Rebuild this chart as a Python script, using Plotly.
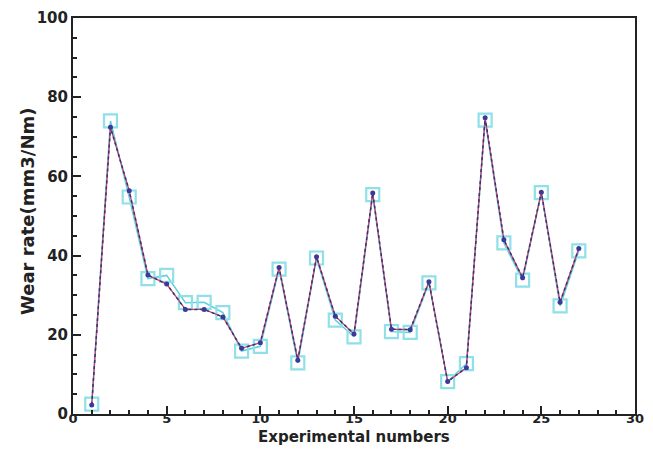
import plotly.graph_objects as go

experiments = list(range(1, 28))
experimental = [2.5, 74.0, 54.8, 34.2, 35.0, 28.1, 28.2, 25.6, 15.9, 17.1, 36.6, 12.9, 39.4,
                23.7, 19.5, 55.4, 20.8, 20.6, 33.1, 8.2, 12.7, 74.2, 43.2, 33.8, 55.9, 27.3, 41.2]
predicted = [2.3, 72.4, 56.4, 35.1, 32.8, 26.4, 26.4, 24.5, 16.6, 18.0, 37.0, 13.6, 39.7,
             24.7, 20.2, 55.8, 21.4, 21.3, 33.4, 8.2, 11.7, 74.8, 44.0, 34.4, 56.0, 28.2, 41.8]
x_title = "Experimental numbers"
y_title = "Wear rate(mm3/Nm)"

fig = go.Figure()
fig.add_trace(go.Scatter(
    x=experiments, y=experimental, mode="lines+markers", name="Experimental",
    line=dict(color="#5fd0dc", width=1.5),
    marker=dict(symbol="square-open", size=13, color="#8fe0e8", line=dict(width=2.2, color="#8fe0e8")),
))
fig.add_trace(go.Scatter(
    x=experiments, y=predicted, mode="lines", name="Predicted",
    line=dict(color="#d23a6a", width=1.3),
))
fig.add_trace(go.Scatter(
    x=experiments, y=predicted, mode="lines+markers", name="Predicted (dots)",
    line=dict(color="#2a3a7a", width=1.5, dash="3px,3px"),
    marker=dict(symbol="circle", size=5, color="#3a3a9a"),
))

tick_font = dict(family="DejaVu Sans", size=15, color="#222")
fig.update_layout(
    width=645, height=438,
    margin=dict(l=65, r=18, t=10, b=32),
    paper_bgcolor="white", plot_bgcolor="white",
    showlegend=False,
    font=dict(family="DejaVu Sans", color="#222"),
    annotations=[
        dict(text="<b>" + x_title + "</b>", xref="paper", yref="paper", x=0.5, y=0,
             xanchor="center", yanchor="middle", yshift=-23, showarrow=False,
             font=dict(family="DejaVu Sans", size=15, color="#222")),
        dict(text="<b>" + y_title + "</b>", xref="paper", yref="paper", x=0, y=0.5,
             xanchor="center", yanchor="middle", xshift=-46, yshift=4, textangle=-90,
             showarrow=False, font=dict(family="DejaVu Sans", size=18, color="#222")),
    ],
)
fig.update_xaxes(
    range=[0, 30], dtick=5, tick0=0, automargin=False,
    ticks="inside", ticklen=8, tickwidth=2, tickcolor="#222",
    minor=dict(dtick=1, ticks="inside", ticklen=4, tickwidth=1.5, tickcolor="#222"),
    showline=True, linewidth=2, linecolor="#222", mirror=True,
    showgrid=False, zeroline=False,
    tickfont=dict(family="DejaVu Sans", size=13, color="#222"), ticklabelstandoff=-9,
    tickprefix="<b>", ticksuffix="</b>",
)
fig.update_yaxes(
    range=[0, 100], dtick=20, tick0=0, automargin=False,
    ticks="inside", ticklen=8, tickwidth=2, tickcolor="#222",
    minor=dict(dtick=5, ticks="inside", ticklen=4, tickwidth=1.5, tickcolor="#222"),
    showline=True, linewidth=2, linecolor="#222", mirror=True,
    showgrid=False, zeroline=False,
    tickfont=tick_font,
    tickprefix="<b>", ticksuffix="</b>",
)

fig.write_html("out.html")
